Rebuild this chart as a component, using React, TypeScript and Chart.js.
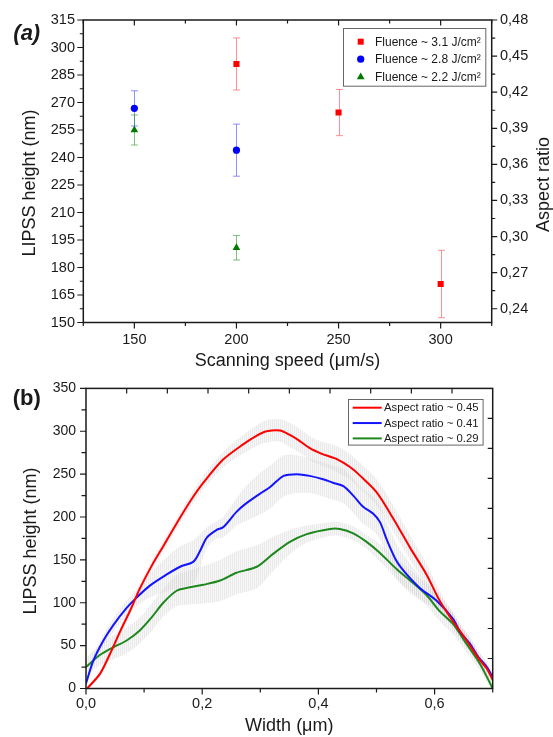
import React, { useEffect, useRef } from 'react';
import { Chart, registerables } from 'chart.js';

Chart.register(...registerables);

const FONT = '"Liberation Sans", Arial, Helvetica, sans-serif';
const INK = '#1a1a1a';

// ---------------- Panel (a) data ----------------
const speedTicks = [150, 200, 250, 300];
const heightTicksA = [150, 165, 180, 195, 210, 225, 240, 255, 270, 285, 300, 315];
const aspectTicks = [0.24, 0.27, 0.3, 0.33, 0.36, 0.39, 0.42, 0.45, 0.48];
const fluenceLabels = ['Fluence ~ 3.1 J/cm²', 'Fluence ~ 2.8 J/cm²', 'Fluence ~ 2.2 J/cm²'];

const speeds31 = [200, 250, 300];
const height31 = [291, 264.5, 171];
const err31 = [14.2, 12.6, 18.4];

const speeds28 = [150, 200];
const height28 = [266.8, 244];
const err28 = [9.6, 14.2];

const speeds22 = [150, 200];
const height22 = [255, 190.8];
const err22 = [8.2, 6.7];

const speedMin = 125;
const speedMax = 325;
const heightMinA = 150;
const heightMaxA = 315;
const aspectMax = 0.48;

// ---------------- Panel (b) data ----------------
const widthTicks = [0, 0.2, 0.4, 0.6];
const heightTicksB = [0, 50, 100, 150, 200, 250, 300, 350];
const aspectLabels = ['Aspect ratio ~ 0.45', 'Aspect ratio ~ 0.41', 'Aspect ratio ~ 0.29'];

const x45 = [0.002, 0.024, 0.041, 0.059, 0.076, 0.093, 0.113, 0.133, 0.159, 0.18, 0.202, 0.236, 0.271, 0.294, 0.311, 0.334, 0.35, 0.365, 0.386, 0.405, 0.43, 0.455, 0.472, 0.5, 0.529, 0.558, 0.586, 0.609, 0.629, 0.655, 0.678, 0.69, 0.7];
const h45 = [0, 17, 40, 67, 91, 117, 143, 166, 196, 219, 240, 267, 285, 295, 300, 301, 296, 290, 280, 274, 268, 258, 248, 229, 198, 164, 133, 102, 81, 56, 33, 23, 10];
const e45 = [2, 3, 3, 4, 4, 5, 5, 6, 6, 7, 8, 9, 11, 12, 13, 13, 14, 14, 14, 14, 15, 15, 15, 15, 15, 14, 13, 11, 9, 8, 7, 6, 5];

const x41 = [0, 0.013, 0.03, 0.047, 0.07, 0.087, 0.11, 0.139, 0.162, 0.185, 0.196, 0.208, 0.225, 0.236, 0.259, 0.274, 0.299, 0.317, 0.34, 0.363, 0.385, 0.408, 0.425, 0.443, 0.46, 0.477, 0.494, 0.506, 0.518, 0.535, 0.552, 0.575, 0.604, 0.632, 0.644, 0.661, 0.675, 0.69, 0.7];
const h41 = [6, 33, 56, 74, 94, 106, 120, 133, 142, 148, 160, 176, 185, 188, 206, 215, 227, 235, 248, 250, 248, 244, 240, 236, 225, 212, 204, 194, 173, 148, 133, 117, 102, 81, 66, 52, 37, 25, 13];
const e41 = [4, 6, 7, 8, 9, 10, 14, 20, 24, 25, 20, 12, 10, 12, 16, 20, 24, 25, 24, 22, 20, 20, 20, 20, 20, 20, 20, 20, 20, 20, 18, 14, 10, 8, 8, 8, 8, 6, 4];

const x29 = [0, 0.024, 0.047, 0.07, 0.093, 0.113, 0.133, 0.156, 0.179, 0.202, 0.231, 0.259, 0.294, 0.322, 0.351, 0.38, 0.42, 0.437, 0.46, 0.483, 0.506, 0.535, 0.563, 0.586, 0.609, 0.632, 0.655, 0.678, 0.7];
const h29 = [25, 39, 48, 56, 68, 83, 100, 114, 118, 121, 126, 135, 142, 157, 171, 180, 186, 186, 181, 171, 158, 139, 123, 109, 90, 75, 52, 29, 0];
const e29 = [10, 12, 14, 15, 15, 16, 16, 18, 20, 22, 24, 25, 25, 20, 14, 10, 8, 8, 8, 8, 10, 12, 12, 12, 12, 12, 10, 8, 4];

const widthMax = 0.7;
const heightMaxB = 350;

// ---------------- helpers ----------------
const setTicks = (values: number[]) => (scale: any) => {
  scale.ticks = values.map((v) => ({ value: v }));
};
const comma = (d: number) => (v: any) => Number(v).toFixed(d).replace('.', ',');

function minorsOf(majors: number[], min: number, max: number) {
  const res: number[] = [];
  for (let i = 0; i < majors.length - 1; i++) res.push((majors[i] + majors[i + 1]) / 2);
  const step = majors[1] - majors[0];
  const lo = majors[0] - step / 2;
  const hi = majors[majors.length - 1] + step / 2;
  if (lo >= min - 1e-9) res.push(lo);
  if (hi <= max + 1e-9) res.push(hi);
  return res;
}

type Side = 'left' | 'right' | 'top' | 'bottom';
interface TickSpec {
  side: Side;
  scaleId?: string;
  majors?: number[];
  divisions?: number;
  inward: boolean;
  majorLen: number;
  minorLen: number;
}

function framePlugin(specs: TickSpec[]) {
  return {
    id: 'frame',
    afterDraw(chart: any) {
      const { ctx, chartArea: ca } = chart;
      ctx.save();
      ctx.strokeStyle = INK;
      ctx.lineWidth = 1.5;
      ctx.strokeRect(ca.left, ca.top, ca.right - ca.left, ca.bottom - ca.top);
      ctx.lineWidth = 1.2;
      for (const s of specs) {
        const vals: [number, number][] = [];
        if (s.divisions) {
          for (let k = 1; k < s.divisions; k++) {
            const p = s.side === 'top' || s.side === 'bottom'
              ? ca.left + ((ca.right - ca.left) * k) / s.divisions
              : ca.top + ((ca.bottom - ca.top) * k) / s.divisions;
            vals.push([p, s.majorLen]);
          }
        } else if (s.scaleId && s.majors) {
          const sc = chart.scales[s.scaleId];
          for (const v of s.majors) vals.push([sc.getPixelForValue(v), s.majorLen]);
          for (const v of minorsOf(s.majors, sc.min, sc.max)) vals.push([sc.getPixelForValue(v), s.minorLen]);
        }
        const sign = s.inward ? -1 : 1;
        ctx.beginPath();
        for (const [p, len] of vals) {
          if (s.side === 'left') { ctx.moveTo(ca.left, p); ctx.lineTo(ca.left - sign * len, p); }
          if (s.side === 'right') { ctx.moveTo(ca.right, p); ctx.lineTo(ca.right + sign * len, p); }
          if (s.side === 'top') { ctx.moveTo(p, ca.top); ctx.lineTo(p, ca.top - sign * len); }
          if (s.side === 'bottom') { ctx.moveTo(p, ca.bottom); ctx.lineTo(p, ca.bottom + sign * len); }
        }
        ctx.stroke();
      }
      ctx.restore();
    },
  };
}

interface TextItem { text: string; x: number; y: number; rot?: number; font: string; align?: CanvasTextAlign }
function textPlugin(items: TextItem[]) {
  return {
    id: 'texts',
    afterDraw(chart: any) {
      const ctx = chart.ctx;
      for (const it of items) {
        ctx.save();
        ctx.translate(it.x, it.y);
        ctx.rotate(it.rot || 0);
        ctx.font = it.font;
        ctx.fillStyle = INK;
        ctx.textAlign = it.align || 'center';
        ctx.textBaseline = 'middle';
        ctx.fillText(it.text, 0, 0);
        ctx.restore();
      }
    },
  };
}

const errorBarPlugin = {
  id: 'errbars',
  beforeDatasetsDraw(chart: any) {
    const { ctx } = chart;
    const xs = chart.scales.x;
    const ys = chart.scales.y;
    chart.data.datasets.forEach((ds: any) => {
      if (!ds.errors) return;
      ctx.save();
      ctx.strokeStyle = ds.errorColor;
      ctx.lineWidth = 1;
      ds.data.forEach((pt: any, i: number) => {
        const x = Math.round(xs.getPixelForValue(pt.x)) + 0.5;
        const yt = ys.getPixelForValue(pt.y + ds.errors[i]);
        const yb = ys.getPixelForValue(pt.y - ds.errors[i]);
        ctx.beginPath();
        ctx.moveTo(x, yt); ctx.lineTo(x, yb);
        ctx.moveTo(x - 3.5, yt); ctx.lineTo(x + 3.5, yt);
        ctx.moveTo(x - 3.5, yb); ctx.lineTo(x + 3.5, yb);
        ctx.stroke();
      });
      ctx.restore();
    });
  },
};

function drawMarker(ctx: CanvasRenderingContext2D, style: string, x: number, y: number, color: string) {
  ctx.fillStyle = color;
  ctx.beginPath();
  if (style === 'rect') ctx.rect(x - 3, y - 3, 6, 6);
  else if (style === 'circle') ctx.arc(x, y, 3.6, 0, Math.PI * 2);
  else { ctx.moveTo(x, y - 4.2); ctx.lineTo(x - 3.9, y + 2.6); ctx.lineTo(x + 3.9, y + 2.6); ctx.closePath(); }
  ctx.fill();
}

const legendAPlugin = {
  id: 'legendA',
  afterDraw(chart: any) {
    const { ctx, chartArea: ca } = chart;
    const bx = ca.right - 149, by = ca.top + 8.3, bw = 142.3, bh = 57.7;
    ctx.save();
    ctx.fillStyle = '#fff';
    ctx.fillRect(bx, by, bw, bh);
    ctx.strokeStyle = '#666';
    ctx.lineWidth = 1;
    ctx.strokeRect(Math.round(bx) + 0.5, Math.round(by) + 0.5, bw, bh);
    chart.data.datasets.forEach((ds: any, i: number) => {
      const y = by + 13.4 + i * 17.5;
      drawMarker(ctx, ds.pointStyle, bx + 18, y, ds.backgroundColor);
      ctx.font = `12px ${FONT}`;
      ctx.fillStyle = INK;
      ctx.textAlign = 'left';
      ctx.textBaseline = 'middle';
      ctx.fillText(ds.label, bx + 32.3, y + 0.5);
    });
    ctx.restore();
  },
};

const legendBPlugin = {
  id: 'legendB',
  afterDraw(chart: any) {
    const { ctx, chartArea: ca } = chart;
    const bx = ca.right - 145, by = ca.top + 10.7, bw = 134.6, bh = 45.6;
    ctx.save();
    ctx.fillStyle = '#fff';
    ctx.fillRect(bx, by, bw, bh);
    ctx.strokeStyle = '#666';
    ctx.lineWidth = 1;
    ctx.strokeRect(Math.round(bx) + 0.5, Math.round(by) + 0.5, bw, bh);
    const lines = chart.data.datasets.filter((d: any) => d.label);
    lines.forEach((ds: any, i: number) => {
      const y = by + 8.6 + i * 15.35;
      ctx.strokeStyle = ds.borderColor;
      ctx.lineWidth = 2;
      ctx.beginPath();
      ctx.moveTo(bx + 5, y);
      ctx.lineTo(bx + 34, y);
      ctx.stroke();
      ctx.font = `11.3px ${FONT}`;
      ctx.fillStyle = INK;
      ctx.textAlign = 'left';
      ctx.textBaseline = 'middle';
      ctx.fillText(ds.label, bx + 36.3, y + 0.5);
    });
    ctx.restore();
  },
};

function makeHatch(ctx: CanvasRenderingContext2D) {
  const c = document.createElement('canvas');
  c.width = 2;
  c.height = 2;
  const g = c.getContext('2d')!;
  g.fillStyle = 'rgba(200,200,200,0.38)';
  g.fillRect(0, 0, 1, 2);
  g.fillStyle = 'rgba(230,230,230,0.3)';
  g.fillRect(1, 0, 1, 2);
  return ctx.createPattern(c, 'repeat')!;
}

const axisCommon = (size: number, padding: number) => ({
  grid: { display: false, drawTicks: false },
  border: { display: false },
  ticks: { autoSkip: false, maxRotation: 0, padding, color: INK, font: { family: FONT, size } },
});

function configA(): any {
  const pts = (xs: number[], ys: number[]) => xs.map((x, i) => ({ x, y: ys[i] }));
  return {
    type: 'scatter',
    data: {
      datasets: [
        { label: fluenceLabels[0], data: pts(speeds31, height31), errors: err31, errorColor: 'rgba(255,70,70,0.6)', pointStyle: 'rect', pointRadius: 4.3, backgroundColor: '#ff0000', borderColor: '#ff0000', borderWidth: 0 },
        { label: fluenceLabels[1], data: pts(speeds28, height28), errors: err28, errorColor: 'rgba(70,70,255,0.6)', pointStyle: 'circle', pointRadius: 3.6, backgroundColor: '#0000ff', borderColor: '#0000ff', borderWidth: 0 },
        { label: fluenceLabels[2], data: pts(speeds22, height22), errors: err22, errorColor: 'rgba(40,150,40,0.6)', pointStyle: 'triangle', pointRadius: 4.4, backgroundColor: '#007a00', borderColor: '#007a00', borderWidth: 0 },
      ],
    },
    options: {
      animation: false,
      responsive: false,
      maintainAspectRatio: false,
      layout: { padding: { top: 20, left: 0, right: 0, bottom: 0 } },
      plugins: { legend: { display: false }, tooltip: { enabled: false }, title: { display: false } },
      scales: {
        x: {
          type: 'linear', position: 'bottom', min: speedMin, max: speedMax,
          afterBuildTicks: setTicks(speedTicks),
          afterFit: (s: any) => { s.height = 47.5; },
          ...axisCommon(14.5, 9),
        },
        y: {
          type: 'linear', position: 'left', min: heightMinA, max: heightMaxA,
          afterBuildTicks: setTicks(heightTicksA),
          afterFit: (s: any) => { s.width = 83.3; },
          ...axisCommon(14.5, 8.3),
        },
        y2: {
          type: 'linear', position: 'right', min: (heightMinA * aspectMax) / heightMaxA, max: aspectMax,
          afterBuildTicks: setTicks(aspectTicks),
          afterFit: (s: any) => { s.width = 61.3; },
          ...axisCommon(14.5, 8.3),
          ticks: { ...axisCommon(14.5, 8.3).ticks, callback: comma(2) },
        },
      },
    },
    plugins: [
      errorBarPlugin,
      framePlugin([
        { side: 'left', scaleId: 'y', majors: heightTicksA, inward: false, majorLen: 6, minorLen: 3.5 },
        { side: 'right', scaleId: 'y2', majors: aspectTicks, inward: false, majorLen: 5.5, minorLen: 3.5 },
        { side: 'bottom', scaleId: 'x', majors: speedTicks, inward: false, majorLen: 6, minorLen: 3.5 },
        { side: 'top', scaleId: 'x', majors: speedTicks, inward: true, majorLen: 5.5, minorLen: 3.5 },
      ]),
      legendAPlugin,
      textPlugin([
        { text: '(a)', x: 13.3, y: 33.5, font: `italic bold 22px ${FONT}`, align: 'left' },
        { text: 'LIPSS height (nm)', x: 30, y: 183, rot: -Math.PI / 2, font: `18px ${FONT}` },
        { text: 'Aspect ratio', x: 544, y: 184.5, rot: -Math.PI / 2, font: `18px ${FONT}` },
        { text: 'Scanning speed (\u03bcm/s)', x: 287.5, y: 361.5, font: `18px ${FONT}` },
      ]),
    ],
  };
}

function configB(ctx: CanvasRenderingContext2D): any {
  const hatch = makeHatch(ctx);
  const curves = [
    { label: aspectLabels[0], xs: x45, ys: h45, es: e45, color: '#ff0000' },
    { label: aspectLabels[1], xs: x41, ys: h41, es: e41, color: '#1414ff' },
    { label: aspectLabels[2], xs: x29, ys: h29, es: e29, color: '#1e871e' },
  ];
  const datasets: any[] = [];
  curves.forEach((c) => {
    datasets.push({
      data: c.xs.map((x, i) => ({ x, y: c.ys[i] + c.es[i] })),
      fill: '+1', backgroundColor: hatch, borderColor: 'transparent', borderWidth: 0,
      pointRadius: 0, tension: 0.3, order: 5,
    });
    datasets.push({
      data: c.xs.map((x, i) => ({ x, y: c.ys[i] - c.es[i] })),
      fill: false, backgroundColor: 'transparent', borderColor: 'transparent', borderWidth: 0,
      pointRadius: 0, tension: 0.3, order: 5,
    });
  });
  curves.forEach((c) => {
    datasets.push({
      label: c.label,
      data: c.xs.map((x, i) => ({ x, y: c.ys[i] })),
      fill: false, borderColor: c.color, backgroundColor: c.color, borderWidth: 2,
      pointRadius: 0, tension: 0.3, order: 1,
    });
  });
  return {
    type: 'line',
    data: { datasets },
    options: {
      animation: false,
      responsive: false,
      maintainAspectRatio: false,
      layout: { padding: { top: 15, left: 0, right: 60.3, bottom: 0 } },
      plugins: { legend: { display: false }, tooltip: { enabled: false }, title: { display: false } },
      scales: {
        x: {
          type: 'linear', position: 'bottom', min: 0, max: widthMax,
          afterBuildTicks: setTicks(widthTicks),
          afterFit: (s: any) => { s.height = 48.5; },
          ...axisCommon(14.5, 7),
          ticks: { ...axisCommon(14.5, 7).ticks, callback: comma(1) },
        },
        y: {
          type: 'linear', position: 'left', min: 0, max: heightMaxB,
          afterBuildTicks: setTicks(heightTicksB),
          afterFit: (s: any) => { s.width = 86; },
          ...axisCommon(14, 10),
        },
      },
    },
    plugins: [
      framePlugin([
        { side: 'left', scaleId: 'y', majors: heightTicksB, inward: false, majorLen: 6, minorLen: 4.5 },
        { side: 'bottom', scaleId: 'x', majors: widthTicks, inward: false, majorLen: 6, minorLen: 4 },
        { side: 'top', divisions: 10, inward: true, majorLen: 5, minorLen: 5 },
        { side: 'right', divisions: 10, inward: true, majorLen: 5, minorLen: 5 },
      ]),
      legendBPlugin,
      textPlugin([
        { text: '(b)', x: 12.7, y: 29, font: `bold 22px ${FONT}`, align: 'left' },
        { text: 'LIPSS height (nm)', x: 31, y: 171, rot: -Math.PI / 2, font: `18px ${FONT}` },
        { text: 'Width (\u03bcm)', x: 289.3, y: 356, font: `18px ${FONT}` },
      ]),
    ],
  };
}

export default function App() {
  const refA = useRef<HTMLCanvasElement>(null);
  const refB = useRef<HTMLCanvasElement>(null);
  useEffect(() => {
    const a = new Chart(refA.current!, configA());
    const b = new Chart(refB.current!, configB(refB.current!.getContext('2d')!));
    return () => {
      a.destroy();
      b.destroy();
    };
  }, []);
  return (
    <div style={{ position: 'absolute', left: 0, top: 0, width: 553, height: 737, background: '#fff' }}>
      <canvas ref={refA} width={553} height={370} style={{ position: 'absolute', left: 0, top: 0, width: 553, height: 370 }} />
      <canvas ref={refB} width={553} height={367} style={{ position: 'absolute', left: 0, top: 370, width: 553, height: 367 }} />
    </div>
  );
}
